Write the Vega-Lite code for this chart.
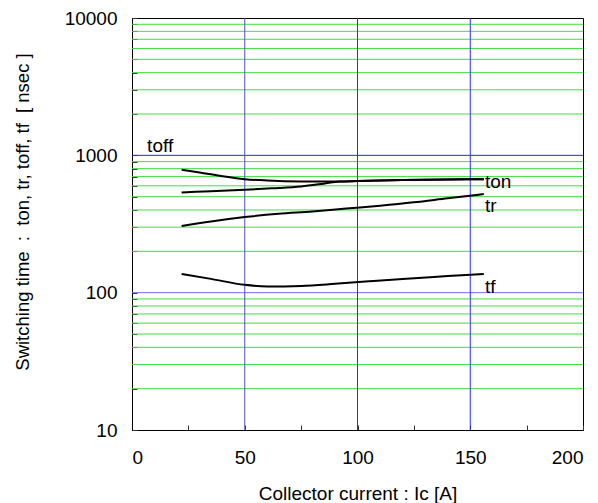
{
  "$schema": "https://vega.github.io/schema/vega-lite/v6.json",
  "width": 451,
  "height": 412,
  "autosize": "none",
  "padding": {"left": 132, "top": 18, "right": 15, "bottom": 73},
  "background": "white",
  "config": {
    "view": {"stroke": "#000000", "strokeWidth": 1},
    "font": "Liberation Sans",
    "axis": {"grid": false}
  },
  "datasets": {
    "hgrid": [
      {"v": 20, "kind": "minor"}, {"v": 30, "kind": "minor"}, {"v": 40, "kind": "minor"}, {"v": 50, "kind": "minor"},
      {"v": 60, "kind": "minor"}, {"v": 70, "kind": "minor"}, {"v": 80, "kind": "minor"}, {"v": 90, "kind": "minor"},
      {"v": 100, "kind": "decade100"},
      {"v": 200, "kind": "minor"}, {"v": 300, "kind": "minor"}, {"v": 400, "kind": "minor"}, {"v": 500, "kind": "minor"},
      {"v": 600, "kind": "minor"}, {"v": 700, "kind": "minor"}, {"v": 800, "kind": "minor"}, {"v": 900, "kind": "minor"},
      {"v": 1000, "kind": "decade1000"},
      {"v": 2000, "kind": "minor"}, {"v": 3000, "kind": "minor"}, {"v": 4000, "kind": "minor"}, {"v": 5000, "kind": "minor"},
      {"v": 6000, "kind": "minor"}, {"v": 7000, "kind": "minor"}, {"v": 8000, "kind": "minor"}, {"v": 9000, "kind": "minor"}
    ],
    "vgrid": [
      {"v": 50, "kind": "v50"}, {"v": 100, "kind": "v"}, {"v": 150, "kind": "v"}
    ],
    "curves": [
      {"series": "toff", "x": 22, "y": 784},
      {"series": "toff", "x": 30, "y": 750},
      {"series": "toff", "x": 39, "y": 709},
      {"series": "toff", "x": 50, "y": 671},
      {"series": "toff", "x": 60, "y": 656},
      {"series": "toff", "x": 75, "y": 646},
      {"series": "toff", "x": 92, "y": 645},
      {"series": "toff", "x": 100, "y": 650},
      {"series": "toff", "x": 120, "y": 660},
      {"series": "toff", "x": 140, "y": 667},
      {"series": "toff", "x": 156, "y": 671},
      {"series": "ton", "x": 22, "y": 537},
      {"series": "ton", "x": 35, "y": 548},
      {"series": "ton", "x": 50, "y": 561},
      {"series": "ton", "x": 62, "y": 575},
      {"series": "ton", "x": 75, "y": 593},
      {"series": "ton", "x": 85, "y": 622},
      {"series": "ton", "x": 92, "y": 645},
      {"series": "ton", "x": 100, "y": 650},
      {"series": "ton", "x": 120, "y": 660},
      {"series": "ton", "x": 140, "y": 667},
      {"series": "ton", "x": 156, "y": 671},
      {"series": "tr", "x": 22, "y": 306},
      {"series": "tr", "x": 35, "y": 330},
      {"series": "tr", "x": 50, "y": 355},
      {"series": "tr", "x": 65, "y": 375},
      {"series": "tr", "x": 80, "y": 390},
      {"series": "tr", "x": 95, "y": 410},
      {"series": "tr", "x": 110, "y": 430},
      {"series": "tr", "x": 125, "y": 455},
      {"series": "tr", "x": 140, "y": 487},
      {"series": "tr", "x": 156, "y": 522},
      {"series": "tf", "x": 22, "y": 137},
      {"series": "tf", "x": 35, "y": 126},
      {"series": "tf", "x": 50, "y": 114},
      {"series": "tf", "x": 60, "y": 111},
      {"series": "tf", "x": 75, "y": 112},
      {"series": "tf", "x": 90, "y": 116},
      {"series": "tf", "x": 105, "y": 121},
      {"series": "tf", "x": 120, "y": 126},
      {"series": "tf", "x": 140, "y": 132},
      {"series": "tf", "x": 156, "y": 137}
    ],
    "labels": [
      {"label": "toff", "x": 6.7, "y": 1172},
      {"label": "ton", "x": 156.5, "y": 637},
      {"label": "tr", "x": 156.5, "y": 427},
      {"label": "tf", "x": 156.5, "y": 110}
    ]
  },
  "layer": [
    {
      "data": {"name": "hgrid"},
      "mark": {"type": "rule", "strokeWidth": 1},
      "encoding": {
        "y": {"field": "v", "type": "quantitative", "scale": {"type": "log", "domain": [10, 10000], "nice": false}},
        "color": {"field": "kind", "type": "nominal", "legend": null,
          "scale": {"domain": ["minor", "decade100", "decade1000", "v50", "v"], "range": ["#3fdf3f", "#6f6fff", "#2a2add", "#5050c0", "#2a2aff"]}}
      }
    },
    {
      "data": {"name": "vgrid"},
      "mark": {"type": "rule", "strokeWidth": 1},
      "encoding": {
        "x": {"field": "v", "type": "quantitative", "scale": {"domain": [0, 200], "nice": false}},
        "color": {"field": "kind", "type": "nominal", "legend": null}
      }
    },
    {
      "data": {"name": "curves"},
      "mark": {"type": "line", "color": "#000000", "strokeWidth": 2, "interpolate": "monotone"},
      "encoding": {
        "x": {
          "field": "x", "type": "quantitative",
          "scale": {"domain": [0, 200], "nice": false},
          "axis": {
            "title": "Collector current : Ic [A]",
            "values": [0, 25, 50, 75, 100, 125, 150, 175, 200],
            "labelExpr": "datum.value % 50 === 0 ? datum.label : ''",
            "labelFont": "Liberation Sans", "labelFontSize": 19, "labelColor": "#000000",
            "labelPadding": 23,
            "tickSize": -5, "tickColor": "#333333", "tickWidth": 1,
            "domainColor": "#000000", "domainWidth": 1,
            "grid": false,
            "titleFont": "Liberation Sans", "titleFontSize": 19, "titleFontWeight": "normal", "titleColor": "#000000",
            "titleX": 225.5, "titleY": 63, "titleBaseline": "middle", "titleAlign": "center"
          }
        },
        "y": {
          "field": "y", "type": "quantitative",
          "scale": {"type": "log", "domain": [10, 10000], "nice": false},
          "axis": {
            "title": "Switching time \u00a0:\u00a0 ton, tr, toff, tf \u00a0[ nsec ]",
            "values": [10, 20, 30, 40, 50, 60, 70, 80, 90, 100, 200, 300, 400, 500, 600, 700, 800, 900, 1000, 2000, 3000, 4000, 5000, 6000, 7000, 8000, 9000, 10000],
            "format": "d",
            "labelExpr": "indexof([10, 100, 1000, 10000], datum.value) >= 0 ? datum.label : ''",
            "labelFont": "Liberation Sans", "labelFontSize": 19, "labelColor": "#000000",
            "labelPadding": 20,
            "tickSize": -5, "tickColor": "#333333", "tickWidth": 1,
            "domainColor": "#000000", "domainWidth": 1,
            "grid": false,
            "titleFont": "Liberation Sans", "titleFontSize": 18.5, "titleFontWeight": "normal", "titleColor": "#000000",
            "titleX": -110, "titleY": 193.5, "titleBaseline": "middle", "titleAlign": "center", "titleAngle": -90
          }
        },
        "detail": {"field": "series", "type": "nominal"}
      }
    },
    {
      "data": {"name": "labels"},
      "mark": {"type": "text", "align": "left", "baseline": "middle", "font": "Liberation Sans", "fontSize": 19, "color": "#000000"},
      "encoding": {
        "x": {"field": "x", "type": "quantitative"},
        "y": {"field": "y", "type": "quantitative"},
        "text": {"field": "label", "type": "nominal"}
      }
    }
  ]
}
